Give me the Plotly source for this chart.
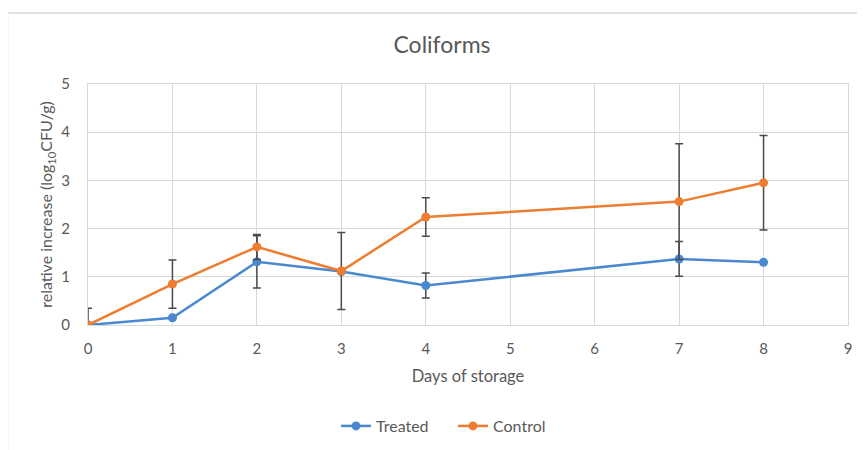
import plotly.graph_objects as go

days = [0, 1, 2, 3, 4, 7, 8]
treated = [0.0, 0.15, 1.31, 1.11, 0.82, 1.37, 1.30]
control = [0.0, 0.85, 1.62, 1.12, 2.24, 2.56, 2.95]
treated_err = [0.0, 0.0, 0.54, 0.0, 0.26, 0.36, 0.0]
control_err = [0.35, 0.50, 0.26, 0.80, 0.40, 1.20, 0.98]

blue = "#4A89CF"
orange = "#ED7D31"
grid = "#d9d9d9"
txt = "#595959"
font = "Lato, Open Sans, sans-serif"

fig = go.Figure()
fig.add_trace(go.Scatter(
    x=days, y=treated, name="Treated", mode="lines+markers",
    line=dict(color=blue, width=2.5), marker=dict(color=blue, size=9),
    error_y=dict(type="data", array=treated_err, visible=True,
                 color="#4a4a4a", thickness=1.5, width=4)))
fig.add_trace(go.Scatter(
    x=days, y=control, name="Control", mode="lines+markers",
    line=dict(color=orange, width=2.5), marker=dict(color=orange, size=9),
    error_y=dict(type="data", array=control_err, visible=True,
                 color="#4a4a4a", thickness=1.5, width=4)))

# page body adds an 8px offset; work in screen coordinates
O = 8
W, H = 865, 450
SL, SR, ST, SB = 87.5, 848, 84, 325
L = SL - O
T = ST - O
R = W - (SR - O)
B = H - (SB - O)
pw, ph = W - L - R, H - T - B

def px(x):
    return (x - O - L) / pw

def py(y):
    return (H - B - (y - O)) / ph

def cx(x):
    return (x - O) / W

def cy(y):
    return 1 - (y - O) / H

fig.update_layout(
    width=W, height=H,
    margin=dict(l=L, r=R, t=T, b=B, autoexpand=False),
    paper_bgcolor="white", plot_bgcolor="white",
    font=dict(family=font, color=txt, size=15),
    title=dict(text="Coliforms", x=cx(442), xref="container",
               xanchor="center", y=cy(45), yanchor="middle",
               font=dict(size=23, color=txt, family=font)),
    showlegend=True,
    legend=dict(orientation="h", x=cx(453), xref="container", xanchor="center",
                y=cy(426), yref="container", yanchor="middle",
                font=dict(size=16, color=txt), entrywidth=72),
    xaxis=dict(range=[0, 9], dtick=1, showgrid=True, gridcolor=grid, gridwidth=1,
               zeroline=False, showline=True, linecolor=grid, mirror=True,
               ticks="", tickfont=dict(size=15, color=txt), automargin=False,
               ticklabelstandoff=10,
               title=dict(text="Days of storage", font=dict(size=16.5, color=txt), standoff=14)),
    yaxis=dict(range=[0, 5], dtick=1, showgrid=True, gridcolor=grid, gridwidth=1,
               zeroline=False, showline=True, linecolor=grid, mirror=True,
               ticks="", tickfont=dict(size=15, color=txt), automargin=False,
               ticklabelstandoff=14,
               title=dict(text="relative increase (log<sub>10</sub>CFU/g)",
                          font=dict(size=16, color=txt), standoff=4)),
    shapes=[
        dict(type="line", xref="paper", yref="paper", x0=px(7), x1=px(W + 10), y0=py(13), y1=py(13),
             line=dict(color=grid, width=1.5)),
        dict(type="line", xref="paper", yref="paper", x0=px(7), x1=px(7), y0=py(13), y1=py(H + 10),
             line=dict(color=grid, width=1.5)),
    ],
)

fig.write_html("out.html")
